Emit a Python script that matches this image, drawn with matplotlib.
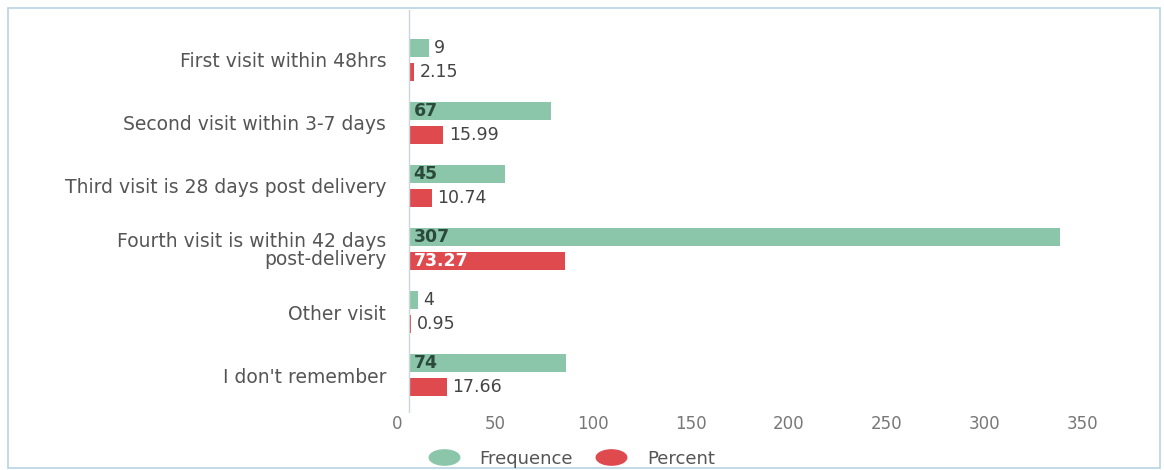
import numpy as np
import matplotlib
matplotlib.use("Agg")
import matplotlib.pyplot as plt
from matplotlib.lines import Line2D
from matplotlib.patches import Rectangle
from matplotlib.path import Path

# data
categories = [
    "First visit within 48hrs",
    "Second visit within 3-7 days",
    "Third visit is 28 days post delivery",
    "Fourth visit is within 42 days\npost-delivery",
    "Other visit",
    "I don't remember",
]
frequence = [9, 67, 45, 307, 4, 74]
percent = [2.15, 15.99, 10.74, 73.27, 0.95, 17.66]
tick_values = [0, 50, 100, 150, 200, 250, 300, 350]

GREEN = "#8cc6aa"
RED = "#df4a4f"
TEXT = "#555555"

plt.rcParams["font.family"] = ["DejaVu Sans"]

fig = plt.figure(figsize=(11.64, 4.70), dpi=100)
ax = fig.add_axes([0.339, 0.121, 0.641, 0.858])

y = np.arange(len(categories))
h = 0.29
off = 0.19
ax.barh(y - off, frequence, height=h, color=GREEN, label="Frequence")
ax.barh(y + off, percent, height=h, color=RED, label="Percent")
ax.axvline(0, color="#c9d6dc", linewidth=1)

# value labels: inside the bar when it is long enough, otherwise just after it
for yi, v in zip(y, frequence):
    if v > 30:
        ax.text(2, yi - off, str(v), va="center", ha="left", fontsize=12.5,
                color="#2b4a3c", fontweight="bold")
    else:
        ax.text(v + 2.5, yi - off, str(v), va="center", ha="left", fontsize=12.5,
                color="#444444")
for yi, v in zip(y, percent):
    if v > 30:
        ax.text(2, yi + off, f"{v:.2f}", va="center", ha="left", fontsize=12.5,
                color="white", fontweight="bold")
    else:
        ax.text(v + 2.5, yi + off, f"{v:.2f}", va="center", ha="left", fontsize=12.5,
                color="#444444")

ax.set_yticks(y)
ax.set_yticklabels(categories, fontsize=13.5, color=TEXT, linespacing=0.95)
# tick labels sit slightly off the bar scale in the original, keep that look
ax.set_xticks(np.array(tick_values) * 0.925 - 6)
ax.set_xticklabels([str(t) for t in tick_values], fontsize=12, color="#777777")
ax.set_xlim(-7, 345)
ax.set_ylim(5.6, -0.79)
ax.tick_params(axis="y", length=0, pad=6)
ax.tick_params(axis="x", length=0, pad=1)

for s in ax.spines.values():
    s.set_visible(False)

# flat ellipse legend markers like the original
t = np.linspace(0, 2 * np.pi, 40)
ellipse = Path(np.column_stack([np.cos(t), 0.5 * np.sin(t)]), closed=True)
handles = [
    Line2D([], [], marker=ellipse, linestyle="", markersize=22, color=GREEN),
    Line2D([], [], marker=ellipse, linestyle="", markersize=22, color=RED),
]
fig.legend(handles, ["Frequence", "Percent"], loc="center",
           bbox_to_anchor=(0.49, 0.024), ncol=2, frameon=False,
           fontsize=13, labelcolor=TEXT, handletextpad=1.0, columnspacing=1.1)

# light frame round the whole picture
fig.patches.append(Rectangle((8 / 1164, 2 / 470), 1152 / 1164, 460 / 470,
                             transform=fig.transFigure, fill=False,
                             edgecolor="#b8d3e3", linewidth=1.2))

fig.savefig("out.png", dpi=100)
